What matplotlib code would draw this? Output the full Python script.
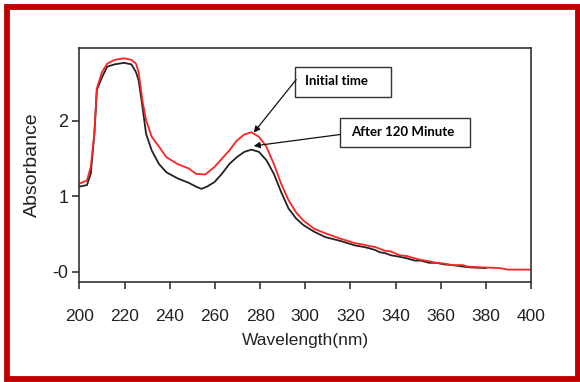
import matplotlib
matplotlib.use("Agg")
from matplotlib import pyplot as plt
from matplotlib.patches import Rectangle

# UV-Vis spectra
wl_initial = [200, 203.3, 205, 206.6, 207.7, 210, 212.3, 215.6, 219.7, 223, 225,
              226.2, 227.9, 229.5, 232, 235.2, 238.5, 243.4, 248.4, 251.6, 255.7,
              259.8, 263.1, 266.4, 269.7, 273, 276.2, 279.5, 282.8, 286.1, 289.3,
              292.6, 295.9, 299.2, 304.1, 309, 315.6, 322.1, 326, 328.7, 331, 335.2,
              338, 341.8, 345, 348.4, 351, 354.9, 358, 361.5, 365, 369.7, 372,
              377.9, 386.1, 390, 394.3, 400]
abs_initial = [1.17, 1.21, 1.39, 1.83, 2.43, 2.65, 2.76, 2.81, 2.83, 2.81, 2.76,
               2.65, 2.27, 2.01, 1.79, 1.66, 1.52, 1.43, 1.37, 1.30, 1.29,
               1.39, 1.50, 1.61, 1.74, 1.82, 1.85, 1.79, 1.66, 1.43, 1.17,
               0.95, 0.79, 0.68, 0.57, 0.51, 0.44, 0.38, 0.36, 0.34, 0.33, 0.28,
               0.27, 0.22, 0.21, 0.18, 0.16, 0.14, 0.12, 0.11, 0.09, 0.09, 0.07,
               0.06, 0.05, 0.03, 0.03, 0.03]

wl_120 = [200, 203.3, 205, 206.6, 207.7, 210, 212.3, 215.6, 219.7, 223, 225,
          226.2, 227.9, 229.5, 232, 235.2, 238.5, 243.4, 248.4, 251.6, 254,
          256.5, 259.8, 263.1, 266.4, 269.7, 273, 276.2, 279.5, 282.8, 286.1,
          289.3, 292.6, 295.9, 299.2, 304.1, 309, 315.6, 322.1, 326, 328.7, 331,
          333, 335.2, 338, 341.8, 345, 348.4, 351, 354.9, 358, 361.5, 365, 370,
          373, 380]
abs_120 = [1.13, 1.15, 1.30, 1.83, 2.41, 2.58, 2.72, 2.75, 2.77, 2.75, 2.65,
           2.54, 2.19, 1.83, 1.61, 1.43, 1.32, 1.24, 1.18, 1.13, 1.10,
           1.13, 1.19, 1.30, 1.43, 1.52, 1.59, 1.62, 1.59, 1.48, 1.30,
           1.06, 0.84, 0.71, 0.62, 0.53, 0.46, 0.41, 0.35, 0.33, 0.31, 0.29,
           0.26, 0.25, 0.22, 0.20, 0.18, 0.15, 0.15, 0.12, 0.12, 0.10, 0.09, 0.07,
           0.06, 0.05]

xticks = [200, 220, 240, 260, 280, 300, 320, 340, 360, 380, 400]
yticks = [0, 1, 2]
ytick_labels = ["-0", "1", "2"]

sans = ["Liberation Sans", "DejaVu Sans"]

fig = plt.figure(figsize=(5.8, 3.82), dpi=100)
ax = fig.add_axes([0.137, 0.2626, 0.7785, 0.6124])

ax.plot(wl_120, abs_120, color="#222222", lw=1.3)
ax.plot(wl_initial, abs_initial, color="#ff2222", lw=1.3)

ax.set_xlim(200, 400)
ax.set_ylim(-0.13, 2.97)

ax.set_xticks(xticks)
ax.set_xticklabels([str(t) for t in xticks], family=sans, fontsize=12.5)
ax.set_yticks(yticks)
ax.set_yticklabels(ytick_labels, family=sans, fontsize=13)
ax.tick_params(axis="x", direction="out", length=5, width=1.2, pad=15, colors="#333333")
ax.tick_params(axis="y", direction="out", length=5, width=1.2, pad=3, colors="#333333")
for t in ax.get_xticklabels() + ax.get_yticklabels():
    t.set_color("#222222")

for s in ax.spines.values():
    s.set_color("#333333")
    s.set_linewidth(1.2)

ax.set_xlabel("Wavelength(nm)", family=sans, fontsize=12.5, color="#222222", labelpad=6)
ax.set_ylabel("Absorbance", family=sans, fontsize=14, color="#222222", labelpad=8)

# annotation boxes
ax.add_patch(Rectangle((295.5, 2.314), 42.5, 0.397, fill=False, ec="#333333",
                       lw=1.0, clip_on=False))
ax.add_patch(Rectangle((315.4, 1.652), 57.6, 0.384, fill=False, ec="#333333",
                       lw=1.0, clip_on=False))
ax.text(300.1, 2.526, "Initial time", family=["Lato", "DejaVu Sans"], fontweight="bold",
        fontsize=9.5, va="center", ha="left")
ax.text(320.3, 1.85, "After 120 Minute", family=["Lato", "DejaVu Sans"], fontweight="bold",
        fontsize=9.5, va="center", ha="left")

arrow = dict(arrowstyle="-|>", color="#111111", lw=0.9, mutation_scale=9,
             shrinkA=0, shrinkB=0)
ax.annotate("", xy=(277.2, 1.846), xytext=(296.0, 2.548), arrowprops=arrow)
ax.annotate("", xy=(277.2, 1.669), xytext=(315.4, 1.82), arrowprops=arrow)

# red frame round the picture
fig.patches.append(Rectangle((6.5 / 580, 3.5 / 382), 571 / 580, 372 / 382,
                             transform=fig.transFigure, fill=False,
                             ec="#c00000", lw=4.2))

fig.savefig("out.png", dpi=100)
